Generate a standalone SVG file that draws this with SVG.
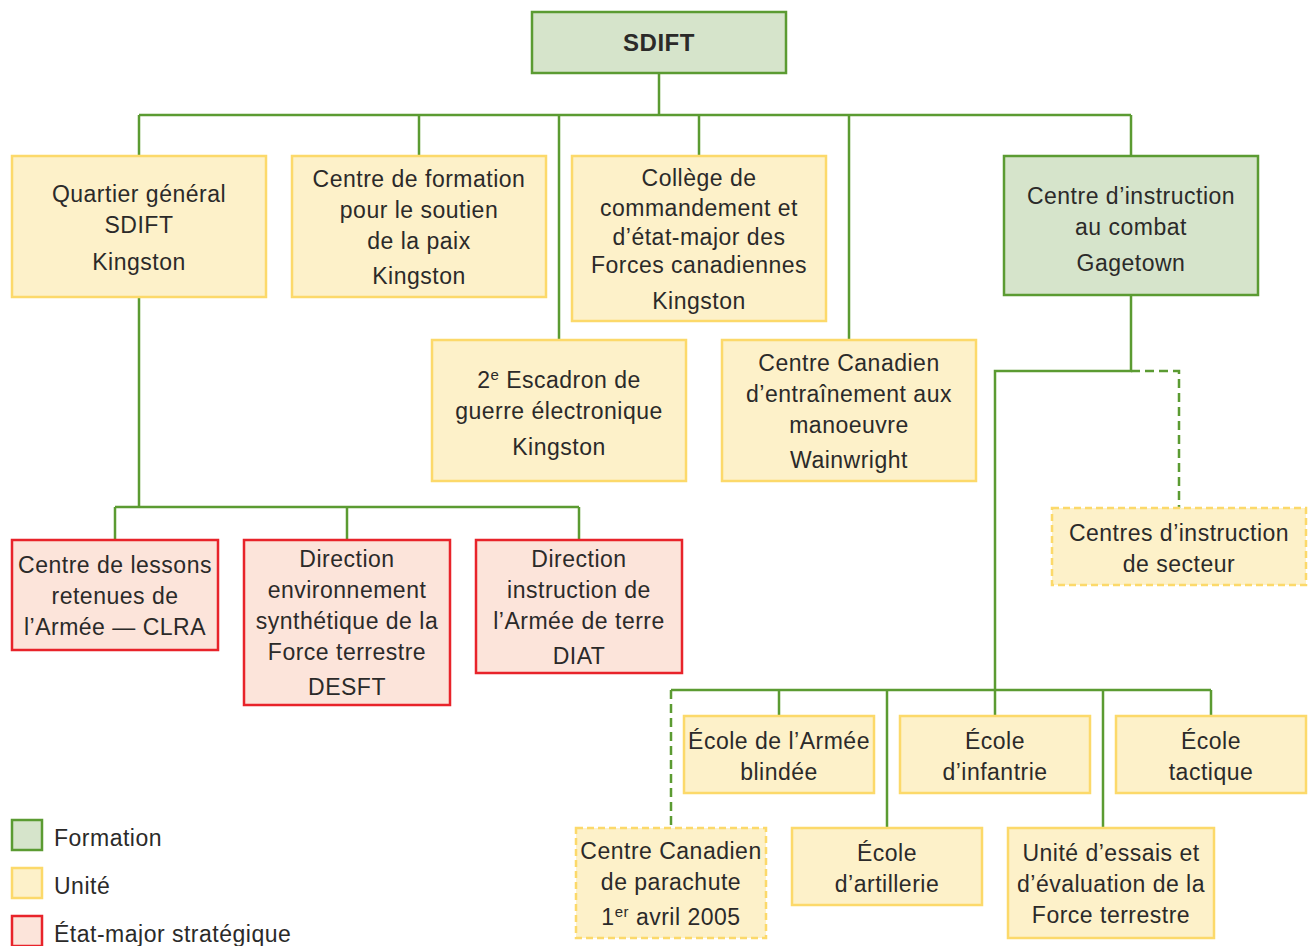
<svg xmlns="http://www.w3.org/2000/svg" width="1308" height="946" viewBox="0 0 1308 946">
<style>
text{font-family:"Liberation Sans",Arial,sans-serif;font-size:23px;fill:#2b2a29;text-anchor:middle;letter-spacing:0.5px}
.g{fill:#d6e4cb;stroke:#5b9b32;stroke-width:2.5}
.y{fill:#fdf1c9;stroke:#fcd96a;stroke-width:2.5}
.yd{fill:#fdf1c9;stroke:#fcd96a;stroke-width:2.5;stroke-dasharray:7 4}
.r{fill:#fce4da;stroke:#e8232a;stroke-width:2.5}
.c{fill:none;stroke:#5b9b32;stroke-width:2.5}
.cd{fill:none;stroke:#5b9b32;stroke-width:2.5;stroke-dasharray:9 5}
.sup{font-size:15px}
.lg{text-anchor:start}
</style>
<rect width="1308" height="946" fill="#fff"/>
<g id="connectors">
<path class="c" d="M659 73V115M139 115H1131M139 115V156M419 115V156M559 115V340M699 115V156M849 115V340M1131 115V156"/>
<path class="c" d="M139 297V507M115 507H579M115 507V540M347 507V540M579 507V540"/>
<path class="c" d="M1131 295V371H995V690M671 690H1211M779 690V716M887 690V828M995 690V716M1103 690V828M1211 690V716"/>
<path class="cd" d="M1131 371H1179V508"/>
<path class="cd" d="M671 690V828"/>
</g>
<g id="sdift"><rect class="g" x="532" y="12" width="254" height="61"/><text x="659" y="51" style="font-weight:bold;font-size:24px">SDIFT</text></g>
<g id="qg"><rect class="y" x="12" y="156" width="254" height="141"/><text x="139" y="202">Quartier général</text><text x="139" y="233">SDIFT</text><text x="139" y="270">Kingston</text></g>
<g id="cfsp"><rect class="y" x="292" y="156" width="254" height="141"/><text x="419" y="187">Centre de formation</text><text x="419" y="218">pour le soutien</text><text x="419" y="249">de la paix</text><text x="419" y="284">Kingston</text></g>
<g id="college"><rect class="y" x="572" y="156" width="254" height="165"/><text x="699" y="186">Collège de</text><text x="699" y="216">commandement et</text><text x="699" y="245">d’état-major des</text><text x="699" y="273">Forces canadiennes</text><text x="699" y="309">Kingston</text></g>
<g id="cic"><rect class="g" x="1004" y="156" width="254" height="139"/><text x="1131" y="204">Centre d’instruction</text><text x="1131" y="235">au combat</text><text x="1131" y="271">Gagetown</text></g>
<g id="escadron"><rect class="y" x="432" y="340" width="254" height="141"/><text x="559" y="388">2<tspan class="sup" dy="-8">e</tspan><tspan dy="8"> Escadron de</tspan></text><text x="559" y="419">guerre électronique</text><text x="559" y="455">Kingston</text></g>
<g id="ccem"><rect class="y" x="722" y="340" width="254" height="141"/><text x="849" y="371">Centre Canadien</text><text x="849" y="402">d’entraînement aux</text><text x="849" y="433">manoeuvre</text><text x="849" y="468">Wainwright</text></g>
<g id="clra"><rect class="r" x="12" y="540" width="206" height="110"/><text x="115" y="573">Centre de lessons</text><text x="115" y="604">retenues de</text><text x="115" y="635">l’Armée — CLRA</text></g>
<g id="desft"><rect class="r" x="244" y="540" width="206" height="165"/><text x="347" y="567">Direction</text><text x="347" y="598">environnement</text><text x="347" y="629">synthétique de la</text><text x="347" y="660">Force terrestre</text><text x="347" y="695">DESFT</text></g>
<g id="diat"><rect class="r" x="476" y="540" width="206" height="133"/><text x="579" y="567">Direction</text><text x="579" y="598">instruction de</text><text x="579" y="629">l’Armée de terre</text><text x="579" y="664">DIAT</text></g>
<g id="cis"><rect class="yd" x="1052" y="508" width="254" height="77"/><text x="1179" y="541">Centres d’instruction</text><text x="1179" y="572">de secteur</text></g>
<g id="blindee"><rect class="y" x="684" y="716" width="190" height="77"/><text x="779" y="749">École de l’Armée</text><text x="779" y="780">blindée</text></g>
<g id="infantrie"><rect class="y" x="900" y="716" width="190" height="77"/><text x="995" y="749">École</text><text x="995" y="780">d’infantrie</text></g>
<g id="tactique"><rect class="y" x="1116" y="716" width="190" height="77"/><text x="1211" y="749">École</text><text x="1211" y="780">tactique</text></g>
<g id="parachute"><rect class="yd" x="576" y="828" width="190" height="110"/><text x="671" y="859">Centre Canadien</text><text x="671" y="890">de parachute</text><text x="671" y="925">1<tspan class="sup" dy="-8">er</tspan><tspan dy="8"> avril 2005</tspan></text></g>
<g id="artillerie"><rect class="y" x="792" y="828" width="190" height="77"/><text x="887" y="861">École</text><text x="887" y="892">d’artillerie</text></g>
<g id="essais"><rect class="y" x="1008" y="828" width="206" height="110"/><text x="1111" y="861">Unité d’essais et</text><text x="1111" y="892">d’évaluation de la</text><text x="1111" y="923">Force terrestre</text></g>
<g id="legend">
<rect class="g" x="12" y="820" width="30" height="30"/><text class="lg" x="54" y="846">Formation</text>
<rect class="y" x="12" y="868" width="30" height="30"/><text class="lg" x="54" y="894">Unité</text>
<rect class="r" x="12" y="916" width="30" height="30"/><text class="lg" x="54" y="942">État-major stratégique</text>
</g>
</svg>
